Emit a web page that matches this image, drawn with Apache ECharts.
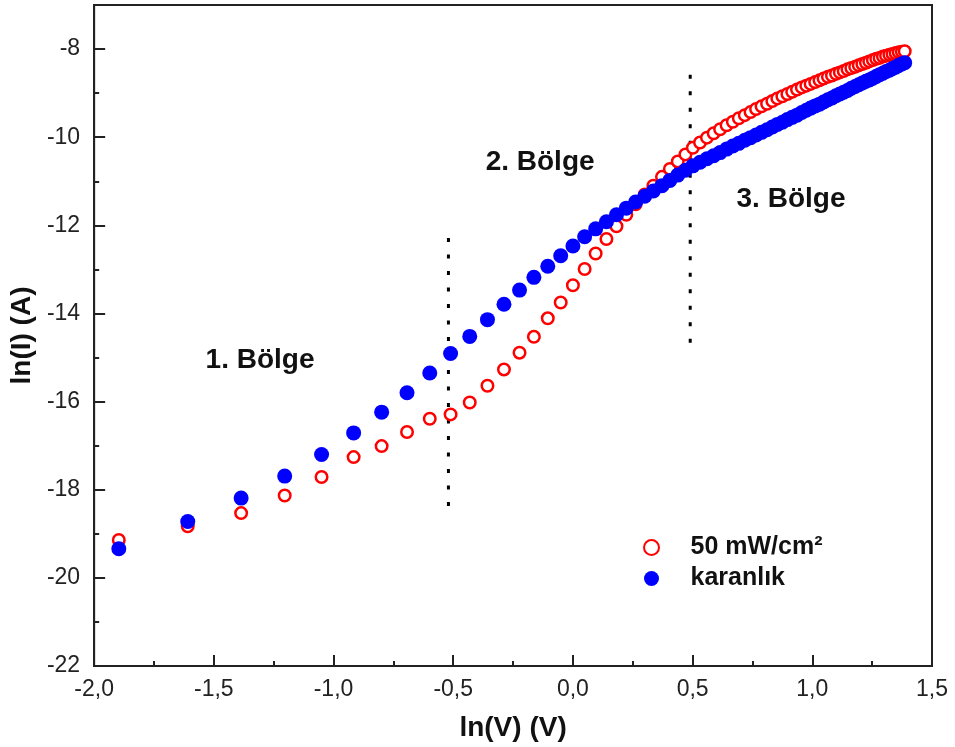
<!DOCTYPE html>
<html>
<head>
<meta charset="utf-8">
<script src="https://cdn.jsdelivr.net/npm/echarts@6/dist/echarts.min.js"></script>
<style>
html,body{margin:0;padding:0;background:#fff;}
#chart{width:955px;height:747px;}
</style>
</head>
<body>
<div id="chart"></div>
<script>
// ln(V) values
const lnV = [
 -1.897,-1.609,-1.386,-1.204,-1.050,-0.916,-0.799,-0.693,-0.598,-0.511,
 -0.431,-0.357,-0.288,-0.223,-0.163,-0.105,-0.051,0.000,0.049,0.095,
 0.140,0.182,0.223,0.262,0.300,0.336,0.372,0.405,0.438,0.470,
 0.501,0.531,0.560,0.588,0.615,0.642,0.668,0.693,0.718,0.742,
 0.765,0.788,0.811,0.833,0.854,0.875,0.896,0.916,0.936,0.956,
 0.975,0.993,1.012,1.030,1.047,1.065,1.082,1.099,1.115,1.131,
 1.147,1.163,1.179,1.194,1.209,1.224,1.238,1.253,1.267,1.281,
 1.295,1.308,1.322,1.335,1.348,1.361,1.374,1.386
];
// ln(I) under 50 mW/cm2
const lnIlight = [
 -19.14,-18.83,-18.53,-18.13,-17.71,-17.26,-17.01,-16.69,-16.39,-16.29,
 -16.02,-15.64,-15.27,-14.89,-14.53,-14.11,-13.75,-13.36,-12.99,-12.64,
 -12.31,-12.02,-11.76,-11.52,-11.30,-11.10,-10.90,-10.72,-10.55,-10.39,
 -10.24,-10.12,-10.01,-9.91,-9.82,-9.73,-9.65,-9.57,-9.50,-9.43,
 -9.36,-9.30,-9.24,-9.18,-9.12,-9.07,-9.02,-8.97,-8.92,-8.87,
 -8.83,-8.79,-8.75,-8.71,-8.67,-8.63,-8.60,-8.56,-8.53,-8.50,
 -8.46,-8.43,-8.40,-8.37,-8.34,-8.31,-8.28,-8.25,-8.22,-8.20,
 -8.17,-8.15,-8.13,-8.11,-8.09,-8.07,-8.06,-8.05
];
// ln(I) in dark (karanlık)
const lnIdark = [
 -19.34,-18.72,-18.19,-17.69,-17.20,-16.71,-16.24,-15.80,-15.35,-14.91,
 -14.52,-14.14,-13.79,-13.47,-13.18,-12.93,-12.69,-12.47,-12.26,-12.08,
 -11.92,-11.76,-11.61,-11.47,-11.34,-11.22,-11.10,-10.98,-10.86,-10.75,
 -10.65,-10.57,-10.49,-10.42,-10.35,-10.27,-10.20,-10.14,-10.07,-10.01,
 -9.95,-9.89,-9.83,-9.77,-9.71,-9.66,-9.60,-9.55,-9.50,-9.44,
 -9.39,-9.34,-9.29,-9.25,-9.20,-9.15,-9.11,-9.06,-9.02,-8.98,
 -8.94,-8.89,-8.85,-8.81,-8.77,-8.73,-8.70,-8.66,-8.62,-8.58,
 -8.55,-8.51,-8.48,-8.44,-8.41,-8.37,-8.34,-8.31
];
const seriesNames = ['50 mW/cm²', 'karanlık'];
// region labels [x, y, text]
const regionLabels = [
 [-1.307, -15.06, '1. Bölge'],
 [-0.137, -10.58, '2. Bölge'],
 [0.911, -11.42, '3. Bölge']
];
// dotted boundaries: x, yStart, yEnd
const boundaries = [
 [-0.52, -12.29, -18.47],
 [0.49, -8.58, -14.72]
];

const font = '"Liberation Sans", Arial, sans-serif';
const chart = echarts.init(document.getElementById('chart'), null, {renderer: 'canvas'});

const lightData = lnV.map((x, i) => [x, lnIlight[i]]);
const darkData = lnV.map((x, i) => [x, lnIdark[i]]);

const series = [
 {
  name: seriesNames[0], type: 'scatter', data: lightData,
  symbol: 'circle', symbolSize: 11.5,
  itemStyle: {color: '#ffffff', borderColor: '#ff0000', borderWidth: 2.5, opacity: 1},
  z: 3
 },
 {
  name: seriesNames[1], type: 'scatter', data: darkData,
  symbol: 'circle', symbolSize: 15,
  itemStyle: {color: '#0000ff', opacity: 1},
  z: 4
 }
];
boundaries.forEach(b => {
 series.push({
  type: 'line', data: [[b[0], b[1]], [b[0], b[2]]],
  symbol: 'none', silent: true,
  lineStyle: {color: '#000', width: 3, type: [4, 12.5]},
  z: 2
 });
});
series.push({
 type: 'scatter', silent: true, symbolSize: 0,
 itemStyle: {opacity: 1, color: '#000'},
 data: regionLabels.map(r => ({value: [r[0], r[1]], name: r[2]})),
 label: {show: true, position: 'inside', formatter: p => p.name,
   fontFamily: font, fontWeight: 'bold', fontSize: 28, color: '#111'},
 z: 5
});

chart.setOption({
 animation: false,
 backgroundColor: '#fff',
 grid: {left: 94, right: 23, top: 5, bottom: 81, show: true, borderColor: '#222', borderWidth: 2},
 legend: {
  data: seriesNames,
  orient: 'vertical', left: 638, top: 530,
  itemWidth: 18, itemHeight: 15, itemGap: 6,
  textStyle: {fontFamily: font, fontWeight: 'bold', fontSize: 25, color: '#111', padding: [0,0,0,25]},
  selectedMode: false
 },
 xAxis: {
  type: 'value', min: -2, max: 1.5, interval: 0.5,
  name: 'ln(V) (V)', nameLocation: 'middle', nameGap: 48,
  nameTextStyle: {fontFamily: font, fontWeight: 'bold', fontSize: 28, color: '#111'},
  axisLine: {show: true, onZero: false, lineStyle: {color: '#222', width: 2}},
  axisTick: {show: true, inside: true, length: 11, lineStyle: {color: '#222', width: 2}},
  minorTick: {show: true, splitNumber: 2, length: 5, lineStyle: {color: '#222', width: 2}},
  splitLine: {show: false},
  axisLabel: {fontFamily: font, fontSize: 23, color: '#222', margin: 12,
   formatter: v => v.toFixed(1).replace('.', ',')}
 },
 yAxis: {
  type: 'value', min: -22, max: -7, interval: 2,
  name: 'ln(I) (A)', nameLocation: 'middle', nameGap: 57,
  nameTextStyle: {fontFamily: font, fontWeight: 'bold', fontSize: 28, color: '#111'},
  axisLine: {show: true, onZero: false, lineStyle: {color: '#222', width: 2}},
  axisTick: {show: true, inside: true, length: 11, lineStyle: {color: '#222', width: 2}},
  minorTick: {show: true, splitNumber: 2, length: 5, lineStyle: {color: '#222', width: 2}},
  splitLine: {show: false},
  axisLabel: {fontFamily: font, fontSize: 23, color: '#222', margin: 14, showMaxLabel: false,
   formatter: v => String(v)}
 },
 series: series
});
</script>
</body>
</html>
